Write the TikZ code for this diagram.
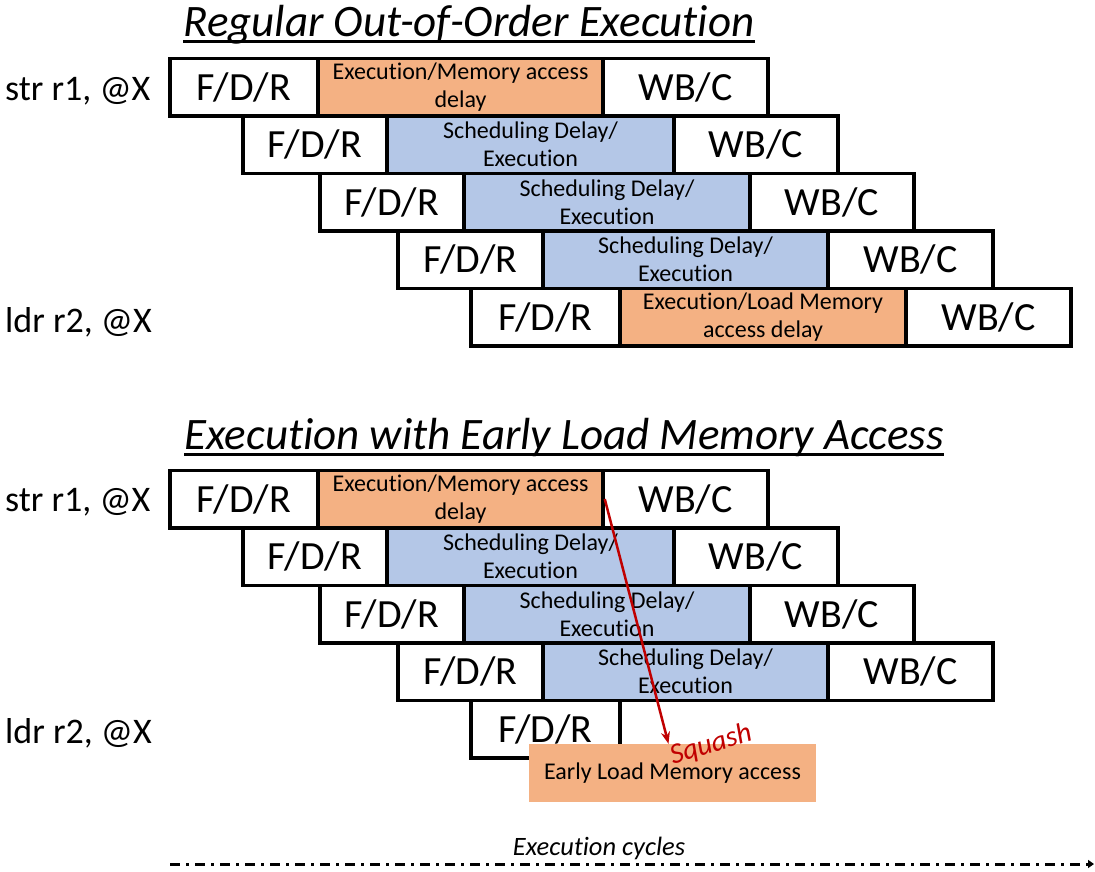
\documentclass[tikz,border=0pt]{standalone}
\usepackage{fontspec}
\setmainfont{Carlito}[Ligatures={NoCommon}]
\usetikzlibrary{arrows.meta}
\definecolor{orng}{HTML}{F4B183}
\definecolor{blu}{HTML}{B4C7E7}
\definecolor{dred}{HTML}{C00000}
\tikzset{
  cell/.style={draw=black, line width=3.5pt, minimum height=57.5pt, inner sep=0pt, align=center},
  bigtxt/.style={font=\fontsize{40}{44}\selectfont},
  smalltxt/.style={font=\fontsize{24}{28}\selectfont},
  lbl/.style={anchor=base west, inner sep=0pt, font=\fontsize{36}{40}\selectfont},
  ttl/.style={anchor=base, inner sep=0pt, font=\fontsize{45}{50}\selectfont\itshape},
  uline/.style={line width=3pt},
  squash/.style={draw=dred, line width=2.5pt, -{Stealth[length=12pt,width=9pt]}},
  axis/.style={line width=3pt, dash pattern=on 10pt off 6pt on 3pt off 6pt, -{Triangle[length=6pt,width=8pt]}}
}
\newcommand{\pipeRow}[8]{%
  \node[cell,bigtxt,fill=white,minimum width={(#4-#3)*1pt}] (#1f) at ({(#3+#4)/2},#2) {F/D/R};
  \node[cell,smalltxt,fill=#7,minimum width={(#5-#4)*1pt}] (#1m) at ({(#4+#5)/2},#2) {#8};
  \node[cell,bigtxt,fill=white,minimum width={(#6-#5)*1pt}] (#1w) at ({(#5+#6)/2},#2) {WB/C};
}
\begin{document}
\begin{tikzpicture}[x=1pt,y=-1pt]
\useasboundingbox[fill=white] (0,0) rectangle (1095,871);
% titles
\node[ttl] (t1) at (469,36) {Regular Out-of-Order Execution};
\draw[uline] ([yshift=-5.5pt]t1.base west) -- ([yshift=-5.5pt]t1.base east);
\node[ttl] (t2) at (564,449) {Execution with Early Load Memory Access};
\draw[uline] ([yshift=-5.5pt]t2.base west) -- ([yshift=-5.5pt]t2.base east);
% top section
\node[lbl] (l1) at (5,100) {str r1, @X};
\node[lbl] (l2) at (5,332) {ldr r2, @X};
\pipeRow{a1}{87}{170}{318}{603}{768}{orng}{Execution/Memory access\\delay}
\pipeRow{a2}{144.5}{243}{387}{674}{838}{blu}{Scheduling Delay/\\Execution}
\pipeRow{a3}{202}{320}{464}{750}{914}{blu}{Scheduling Delay/\\Execution}
\pipeRow{a4}{259.5}{398}{543}{828}{993}{blu}{Scheduling Delay/\\Execution}
\pipeRow{a5}{317}{471}{620}{906}{1071}{orng}{Execution/Load Memory\\access delay}
% bottom section
\node[lbl] (l3) at (5,511) {str r1, @X};
\node[lbl] (l4) at (5,743) {ldr r2, @X};
\pipeRow{b1}{499}{170}{318}{603}{768}{orng}{Execution/Memory access\\delay}
\pipeRow{b2}{556.5}{243}{387}{674}{838}{blu}{Scheduling Delay/\\Execution}
\pipeRow{b3}{614}{320}{464}{750}{914}{blu}{Scheduling Delay/\\Execution}
\pipeRow{b4}{671.5}{398}{543}{828}{993}{blu}{Scheduling Delay/\\Execution}
\node[cell,bigtxt,fill=white,minimum width=149pt] (b5f) at (545.5,729) {F/D/R};
\node[fill=orng, minimum width=287pt, minimum height=58pt, inner sep=0pt, smalltxt] (early) at (672.5,773) {Early Load Memory access};
\draw[squash] (b1m.east) -- ([xshift=-4pt]early.north);
\node[text=dred, rotate=17, inner sep=0pt, font=\fontsize{29}{32}\selectfont\itshape] (sq) at (711,745) {Squash};
% axis
\coordinate (ax0) at (170,864);
\coordinate (ax1) at (1094,864);
\draw[axis] (ax0) -- (ax1);
\node[inner sep=0pt, font=\fontsize{26.5}{30}\selectfont\itshape] (axl) at (599,848) {Execution cycles};
\end{tikzpicture}
\end{document}
